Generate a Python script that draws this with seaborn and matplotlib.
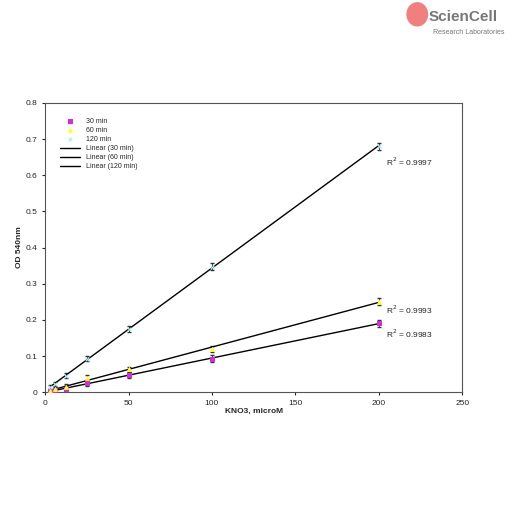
import numpy as np
import matplotlib
matplotlib.use("Agg")
import matplotlib.pyplot as plt
import seaborn as sns
from matplotlib.patches import Ellipse

conc = [3.125, 6.25, 12.5, 25, 50, 100, 200]
od_30 = [0.002, 0.005, 0.010, 0.025, 0.048, 0.093, 0.190]
od_60 = [0.003, 0.008, 0.015, 0.040, 0.063, 0.120, 0.250]
od_120 = [0.015, 0.022, 0.045, 0.093, 0.175, 0.347, 0.680]
err = [0.006, 0.006, 0.007, 0.008, 0.008, 0.009, 0.010]
series = [("30 min", od_30, "#cc33cc", "s"), ("60 min", od_60, "#ffff33", "^"),
          ("120 min", od_120, "#aaeeee", "x")]
r2_labels = ["R$^2$ = 0.9983", "R$^2$ = 0.9993", "R$^2$ = 0.9997"]
r2_y = [0.15, 0.215, 0.625]

sns.set_style("white")
plt.rcParams["font.family"] = ["Liberation Sans", "DejaVu Sans"]
fig = plt.figure(figsize=[5.12, 5.12], dpi=100)
ax = fig.add_axes([0.088, 0.234, 0.815, 0.565])

x = np.array(conc)
for name, y, col, mk in series:
    ax.errorbar(x, y, yerr=err, fmt="none", ecolor="#333333", elinewidth=0.6, capsize=1.5)
    sns.scatterplot(x=x, y=y, color=col, marker=mk, s=7, ax=ax, label=name,
                    edgecolor=col, linewidth=0.8, zorder=3)
for name, y, col, mk in series:
    k, b = np.polyfit(x, y, 1)
    xx = np.array([x.min(), x.max()])
    ax.plot(xx, k * xx + b, color="black", lw=1, label="Linear (%s)" % name)
for lab, yy in zip(r2_labels, r2_y):
    ax.text(204, yy, lab, fontsize=6)

ax.set_xlim(0, 250)
ax.set_ylim(0, 0.8)
ax.set_xticks(range(0, 251, 50))
ax.set_yticks(np.arange(0, 0.81, 0.1))
ax.set_yticklabels(["0"] + ["%.1f" % v for v in np.arange(0.1, 0.81, 0.1)])
ax.tick_params(labelsize=6, length=2, direction="out", bottom=True, left=True)
ax.set_xlabel("KNO3, microM", fontsize=6, fontweight="bold", labelpad=1)
ax.set_ylabel("OD 540nm", fontsize=6, fontweight="bold", labelpad=2)
for s in ax.spines.values():
    s.set_color("#555555")
    s.set_linewidth(0.8)
ax.legend(loc="upper left", bbox_to_anchor=(0.02, 0.97), fontsize=5, frameon=False,
          handlelength=3, labelspacing=0.3)

fig.patches.append(Ellipse((0.815, 0.972), 0.04, 0.045, transform=fig.transFigure,
                           color="#f08080", zorder=1))
fig.text(0.838, 0.967, "ScienCell", fontsize=11, fontweight="bold", color="#777777",
         va="center")
fig.text(0.845, 0.937, "Research Laboratories", fontsize=5, color="#777777", va="center")
fig.savefig("out.png", dpi=100)
